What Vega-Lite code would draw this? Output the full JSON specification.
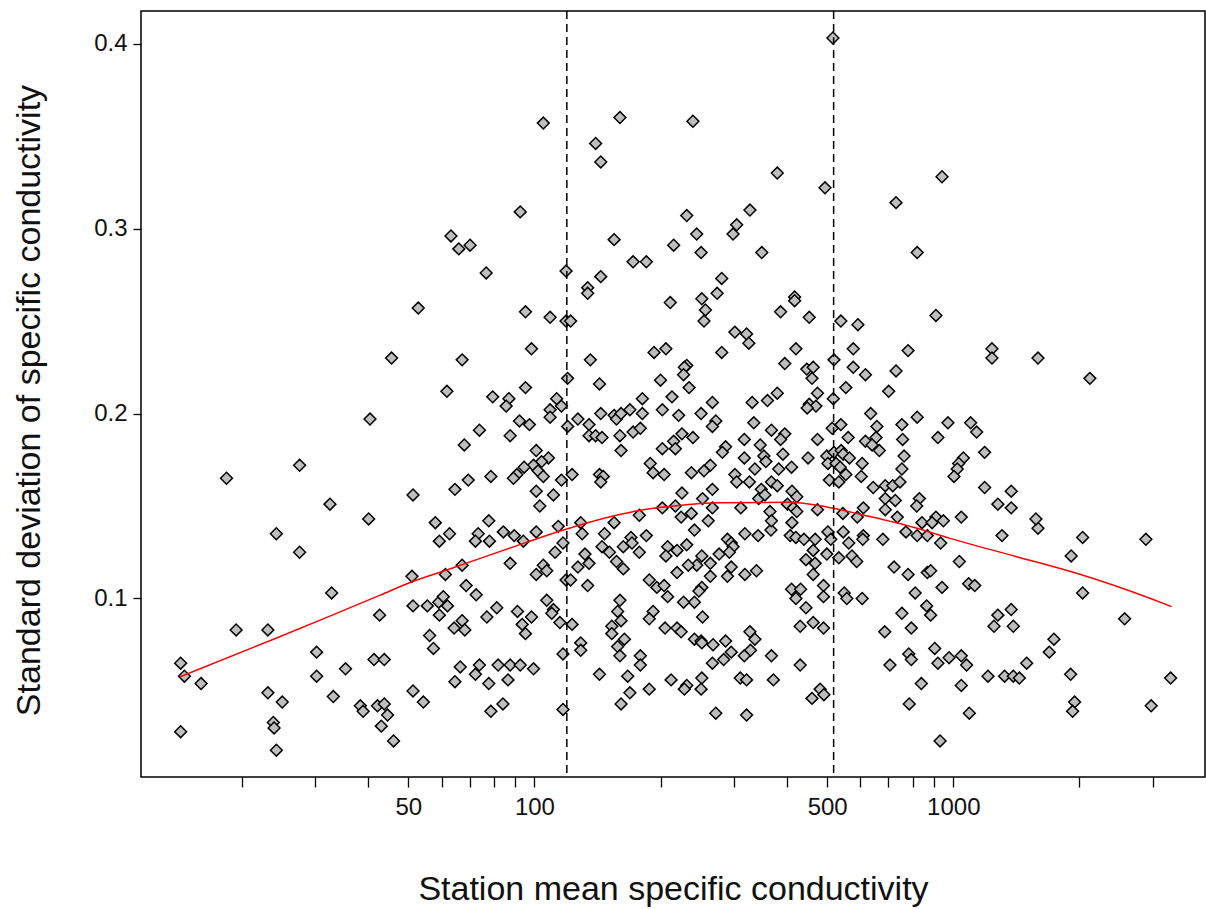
{
  "$schema": "https://vega.github.io/schema/vega-lite/v6.json",
  "width": 1064,
  "height": 766,
  "autosize": {"type": "none"},
  "padding": {"left": 141, "top": 11, "right": 1, "bottom": 132},
  "background": "white",
  "config": {
    "view": {"stroke": "black", "strokeWidth": 1.5},
    "font": "Liberation Sans",
    "axis": {"domain": false, "grid": false, "tickColor": "black", "tickWidth": 1.3, "labelColor": "#111111", "titleColor": "#111111", "labelFont": "Liberation Sans", "titleFont": "Liberation Sans", "titleFontWeight": "normal", "labelOverlap": false, "labelFlush": false}
  },
  "datasets": {
    "pts": [
      {"cond":105,"sd":0.357},{"cond":160,"sd":0.360},{"cond":140,"sd":0.346},{"cond":144,"sd":0.336},{"cond":92.5,"sd":0.309},{"cond":63.2,"sd":0.296},{"cond":66.0,"sd":0.289},{"cond":70.2,"sd":0.291},{"cond":155,"sd":0.294},{"cond":215,"sd":0.291},{"cond":172,"sd":0.282},{"cond":185,"sd":0.282},
      {"cond":516,"sd":0.403},{"cond":239,"sd":0.358},{"cond":380,"sd":0.330},{"cond":494,"sd":0.322},{"cond":940,"sd":0.328},{"cond":730,"sd":0.314},{"cond":327,"sd":0.310},{"cond":231,"sd":0.307},{"cond":304,"sd":0.302},{"cond":298,"sd":0.297},{"cond":244,"sd":0.297},{"cond":250,"sd":0.287},{"cond":349,"sd":0.287},{"cond":820,"sd":0.287},
      {"cond":45.6,"sd":0.230},{"cond":40.5,"sd":0.197},{"cond":27.5,"sd":0.172},{"cond":18.4,"sd":0.165},{"cond":51.3,"sd":0.156},{"cond":32.5,"sd":0.151},{"cond":40.2,"sd":0.143},
      {"cond":24.2,"sd":0.135},{"cond":27.5,"sd":0.125},{"cond":32.8,"sd":0.103},{"cond":42.7,"sd":0.091},{"cond":51.0,"sd":0.112},{"cond":19.4,"sd":0.083},{"cond":23.1,"sd":0.083},{"cond":14.3,"sd":0.065},{"cond":14.6,"sd":0.058},{"cond":16.0,"sd":0.054},{"cond":30.2,"sd":0.071},{"cond":30.2,"sd":0.058},{"cond":35.4,"sd":0.062},{"cond":41.4,"sd":0.067},{"cond":43.8,"sd":0.067},{"cond":51.3,"sd":0.096},{"cond":51.3,"sd":0.050},{"cond":23.1,"sd":0.049},{"cond":25.0,"sd":0.044},{"cond":33.1,"sd":0.047},{"cond":38.4,"sd":0.042},{"cond":39.0,"sd":0.039},{"cond":42.2,"sd":0.042},{"cond":43.8,"sd":0.043},{"cond":44.6,"sd":0.037},{"cond":43.1,"sd":0.031},{"cond":46.1,"sd":0.023},{"cond":14.3,"sd":0.028},{"cond":23.8,"sd":0.033},{"cond":23.9,"sd":0.030},{"cond":24.2,"sd":0.018},
      {"cond":62.7,"sd":0.135},{"cond":59.3,"sd":0.131},{"cond":73.4,"sd":0.135},{"cond":72.3,"sd":0.131},{"cond":78.1,"sd":0.131},{"cond":84.3,"sd":0.136},{"cond":89.5,"sd":0.134},{"cond":94.1,"sd":0.131},{"cond":101,"sd":0.136},{"cond":117,"sd":0.130},{"cond":112,"sd":0.125},{"cond":130,"sd":0.135},{"cond":147,"sd":0.135},{"cond":145,"sd":0.128},{"cond":151,"sd":0.125},{"cond":163,"sd":0.128},{"cond":170,"sd":0.133},{"cond":171,"sd":0.130},{"cond":185,"sd":0.134},{"cond":178,"sd":0.125},{"cond":208,"sd":0.128},{"cond":206,"sd":0.123},{"cond":219,"sd":0.126},
      {"cond":87.5,"sd":0.119},{"cond":67.2,"sd":0.118},{"cond":61.3,"sd":0.113},{"cond":101,"sd":0.113},{"cond":105,"sd":0.118},{"cond":107,"sd":0.115},{"cond":119,"sd":0.110},{"cond":122,"sd":0.110},{"cond":127,"sd":0.117},{"cond":132,"sd":0.124},{"cond":135,"sd":0.119},{"cond":134,"sd":0.107},{"cond":157,"sd":0.120},{"cond":163,"sd":0.116},{"cond":188,"sd":0.110},{"cond":196,"sd":0.106},{"cond":204,"sd":0.107},{"cond":208,"sd":0.101},{"cond":219,"sd":0.114},
      {"cond":68.7,"sd":0.107},{"cond":72.6,"sd":0.102},{"cond":55.5,"sd":0.096},{"cond":59.1,"sd":0.098},{"cond":60.6,"sd":0.101},{"cond":62.0,"sd":0.096},{"cond":59.3,"sd":0.091},{"cond":81.3,"sd":0.095},{"cond":77.0,"sd":0.090},{"cond":91.1,"sd":0.093},{"cond":98.4,"sd":0.090},{"cond":93.5,"sd":0.086},{"cond":95.2,"sd":0.081},{"cond":107,"sd":0.099},{"cond":111,"sd":0.094},{"cond":110,"sd":0.092},{"cond":115,"sd":0.087},{"cond":123,"sd":0.086},{"cond":67.2,"sd":0.088},{"cond":64.3,"sd":0.084},{"cond":68.2,"sd":0.083},{"cond":56.2,"sd":0.080},{"cond":57.4,"sd":0.073},
      {"cond":160,"sd":0.099},{"cond":158,"sd":0.093},{"cond":161,"sd":0.088},{"cond":153,"sd":0.085},{"cond":153,"sd":0.081},{"cond":164,"sd":0.078},{"cond":158,"sd":0.074},{"cond":160,"sd":0.069},{"cond":192,"sd":0.093},{"cond":188,"sd":0.089},{"cond":205,"sd":0.084},{"cond":219,"sd":0.084},{"cond":129,"sd":0.076},{"cond":129,"sd":0.072},{"cond":117,"sd":0.070},{"cond":179,"sd":0.069},{"cond":179,"sd":0.064},
      {"cond":66.5,"sd":0.063},{"cond":73.9,"sd":0.064},{"cond":72.3,"sd":0.059},{"cond":64.6,"sd":0.055},{"cond":77.8,"sd":0.054},{"cond":81.9,"sd":0.064},{"cond":87.5,"sd":0.064},{"cond":92.5,"sd":0.064},{"cond":99.5,"sd":0.062},{"cond":86.5,"sd":0.056},{"cond":143,"sd":0.059},{"cond":167,"sd":0.058},{"cond":212,"sd":0.056},{"cond":188,"sd":0.051},{"cond":169,"sd":0.049},{"cond":161,"sd":0.043},{"cond":54.3,"sd":0.044},{"cond":84.1,"sd":0.043},{"cond":78.7,"sd":0.039},{"cond":117,"sd":0.040},
      {"cond":241,"sd":0.137},{"cond":318,"sd":0.135},{"cond":342,"sd":0.134},{"cond":367,"sd":0.137},{"cond":408,"sd":0.134},{"cond":421,"sd":0.133},{"cond":440,"sd":0.132},{"cond":468,"sd":0.132},{"cond":502,"sd":0.136},{"cond":510,"sd":0.132},{"cond":546,"sd":0.136},{"cond":563,"sd":0.130},{"cond":610,"sd":0.134},{"cond":608,"sd":0.132},{"cond":679,"sd":0.132},{"cond":771,"sd":0.136},{"cond":820,"sd":0.134},{"cond":867,"sd":0.134},{"cond":933,"sd":0.130},
      {"cond":231,"sd":0.129},{"cond":289,"sd":0.132},{"cond":295,"sd":0.130},{"cond":298,"sd":0.128},{"cond":292,"sd":0.125},{"cond":276,"sd":0.124},{"cond":251,"sd":0.123},{"cond":263,"sd":0.119},{"cond":244,"sd":0.118},{"cond":233,"sd":0.118},{"cond":295,"sd":0.117},{"cond":289,"sd":0.112},{"cond":263,"sd":0.112},{"cond":318,"sd":0.113},{"cond":339,"sd":0.115},
      {"cond":463,"sd":0.126},{"cond":445,"sd":0.121},{"cond":468,"sd":0.119},{"cond":499,"sd":0.124},{"cond":533,"sd":0.122},{"cond":573,"sd":0.123},{"cond":588,"sd":0.120},{"cond":463,"sd":0.113},{"cond":722,"sd":0.117},{"cond":780,"sd":0.113},{"cond":867,"sd":0.114},{"cond":883,"sd":0.115},{"cond":940,"sd":0.106},{"cond":811,"sd":0.103},
      {"cond":251,"sd":0.106},{"cond":247,"sd":0.104},{"cond":241,"sd":0.098},{"cond":227,"sd":0.098},{"cond":252,"sd":0.090},{"cond":411,"sd":0.105},{"cond":432,"sd":0.105},{"cond":421,"sd":0.100},{"cond":445,"sd":0.095},{"cond":490,"sd":0.107},{"cond":490,"sd":0.101},{"cond":549,"sd":0.103},{"cond":557,"sd":0.100},{"cond":606,"sd":0.100},{"cond":754,"sd":0.092},{"cond":864,"sd":0.096},{"cond":883,"sd":0.091},
      {"cond":431,"sd":0.085},{"cond":463,"sd":0.087},{"cond":490,"sd":0.084},{"cond":686,"sd":0.082},{"cond":794,"sd":0.084},{"cond":224,"sd":0.082},{"cond":241,"sd":0.078},{"cond":250,"sd":0.077},{"cond":251,"sd":0.076},{"cond":267,"sd":0.075},{"cond":286,"sd":0.077},{"cond":327,"sd":0.082},{"cond":336,"sd":0.078},{"cond":328,"sd":0.072},{"cond":317,"sd":0.069},{"cond":295,"sd":0.071},{"cond":283,"sd":0.067},{"cond":266,"sd":0.065},{"cond":368,"sd":0.069},{"cond":431,"sd":0.064},
      {"cond":903,"sd":0.073},{"cond":783,"sd":0.070},{"cond":794,"sd":0.067},{"cond":706,"sd":0.064},{"cond":919,"sd":0.065},{"cond":977,"sd":0.068},{"cond":251,"sd":0.057},{"cond":231,"sd":0.053},{"cond":228,"sd":0.051},{"cond":250,"sd":0.051},{"cond":310,"sd":0.057},{"cond":321,"sd":0.056},{"cond":372,"sd":0.056},{"cond":481,"sd":0.051},{"cond":491,"sd":0.048},{"cond":460,"sd":0.046},{"cond":839,"sd":0.054},{"cond":785,"sd":0.043},{"cond":271,"sd":0.038},{"cond":321,"sd":0.037},{"cond":930,"sd":0.023},
      {"cond":1593,"sd":0.138},{"cond":1307,"sd":0.134},{"cond":2036,"sd":0.133},{"cond":2883,"sd":0.132},{"cond":1912,"sd":0.123},{"cond":1034,"sd":0.120},{"cond":1088,"sd":0.108},{"cond":1125,"sd":0.107},{"cond":2036,"sd":0.103},{"cond":2565,"sd":0.089},{"cond":1375,"sd":0.094},{"cond":1278,"sd":0.091},{"cond":1251,"sd":0.085},{"cond":1391,"sd":0.085},{"cond":1739,"sd":0.078},{"cond":1695,"sd":0.071},{"cond":1045,"sd":0.069},{"cond":1076,"sd":0.064},{"cond":1497,"sd":0.065},{"cond":1210,"sd":0.058},{"cond":1326,"sd":0.058},{"cond":1391,"sd":0.058},{"cond":1438,"sd":0.057},{"cond":1906,"sd":0.059},{"cond":3303,"sd":0.057},{"cond":1045,"sd":0.053},{"cond":1948,"sd":0.044},{"cond":1927,"sd":0.039},{"cond":2968,"sd":0.042},{"cond":1092,"sd":0.038},
      {"cond":1237,"sd":0.235},{"cond":1237,"sd":0.230},{"cond":1593,"sd":0.230},{"cond":2119,"sd":0.219},{"cond":971,"sd":0.195},{"cond":1100,"sd":0.195},{"cond":1137,"sd":0.190},{"cond":1188,"sd":0.179},{"cond":1057,"sd":0.176},{"cond":1030,"sd":0.173},{"cond":1022,"sd":0.170},{"cond":1004,"sd":0.166},{"cond":1188,"sd":0.160},{"cond":1375,"sd":0.158},{"cond":1278,"sd":0.151},{"cond":1375,"sd":0.149},{"cond":1045,"sd":0.144},{"cond":1575,"sd":0.143},
      {"cond":76.7,"sd":0.276},{"cond":119,"sd":0.277},{"cond":144,"sd":0.274},{"cond":134,"sd":0.268},{"cond":134,"sd":0.265},{"cond":211,"sd":0.260},{"cond":52.8,"sd":0.257},{"cond":95.2,"sd":0.255},{"cond":109,"sd":0.252},{"cond":119,"sd":0.250},{"cond":122,"sd":0.250},{"cond":98.4,"sd":0.235},{"cond":67.2,"sd":0.229},{"cond":136,"sd":0.229},{"cond":193,"sd":0.233},{"cond":206,"sd":0.235},
      {"cond":120,"sd":0.219},{"cond":143,"sd":0.216},{"cond":200,"sd":0.218},{"cond":95.2,"sd":0.214},{"cond":61.8,"sd":0.212},{"cond":79.5,"sd":0.209},{"cond":86.9,"sd":0.208},{"cond":85.6,"sd":0.204},{"cond":113,"sd":0.208},{"cond":116,"sd":0.204},{"cond":109,"sd":0.202},{"cond":109,"sd":0.198},{"cond":181,"sd":0.208},{"cond":213,"sd":0.209},{"cond":202,"sd":0.202},{"cond":181,"sd":0.200},{"cond":221,"sd":0.199},{"cond":144,"sd":0.200},{"cond":155,"sd":0.199},{"cond":157,"sd":0.197},{"cond":161,"sd":0.200},{"cond":169,"sd":0.202},
      {"cond":92.1,"sd":0.196},{"cond":97.3,"sd":0.194},{"cond":127,"sd":0.197},{"cond":135,"sd":0.194},{"cond":120,"sd":0.193},{"cond":73.9,"sd":0.191},{"cond":87.5,"sd":0.188},{"cond":135,"sd":0.188},{"cond":140,"sd":0.188},{"cond":145,"sd":0.187},{"cond":160,"sd":0.188},{"cond":172,"sd":0.190},{"cond":179,"sd":0.192},{"cond":225,"sd":0.189},{"cond":215,"sd":0.185},{"cond":217,"sd":0.181},{"cond":202,"sd":0.181},{"cond":68.0,"sd":0.183},{"cond":101,"sd":0.180},{"cond":161,"sd":0.180},
      {"cond":108,"sd":0.176},{"cond":104,"sd":0.174},{"cond":99.5,"sd":0.172},{"cond":102,"sd":0.169},{"cond":94.5,"sd":0.171},{"cond":90.8,"sd":0.167},{"cond":89.1,"sd":0.165},{"cond":105,"sd":0.166},{"cond":189,"sd":0.173},{"cond":192,"sd":0.168},{"cond":204,"sd":0.167},{"cond":78.7,"sd":0.166},{"cond":69.5,"sd":0.164},{"cond":64.6,"sd":0.159},{"cond":116,"sd":0.164},{"cond":123,"sd":0.167},{"cond":143,"sd":0.167},{"cond":146,"sd":0.166},{"cond":144,"sd":0.163},
      {"cond":101,"sd":0.158},{"cond":111,"sd":0.156},{"cond":103,"sd":0.150},{"cond":58.0,"sd":0.141},{"cond":77.8,"sd":0.142},{"cond":178,"sd":0.145},{"cond":202,"sd":0.149},{"cond":217,"sd":0.150},{"cond":224,"sd":0.144},{"cond":129,"sd":0.141},{"cond":114,"sd":0.139},{"cond":155,"sd":0.141},
      {"cond":280,"sd":0.273},{"cond":273,"sd":0.265},{"cond":251,"sd":0.262},{"cond":256,"sd":0.256},{"cond":254,"sd":0.250},{"cond":418,"sd":0.263},{"cond":418,"sd":0.261},{"cond":387,"sd":0.255},{"cond":453,"sd":0.252},{"cond":539,"sd":0.250},{"cond":592,"sd":0.248},{"cond":909,"sd":0.253},{"cond":301,"sd":0.244},{"cond":321,"sd":0.243},{"cond":325,"sd":0.238},{"cond":280,"sd":0.233},{"cond":421,"sd":0.235},{"cond":577,"sd":0.235},{"cond":780,"sd":0.234},
      {"cond":396,"sd":0.227},{"cond":519,"sd":0.229},{"cond":447,"sd":0.224},{"cond":463,"sd":0.225},{"cond":460,"sd":0.219},{"cond":577,"sd":0.225},{"cond":617,"sd":0.221},{"cond":730,"sd":0.223},{"cond":231,"sd":0.226},{"cond":228,"sd":0.225},{"cond":227,"sd":0.221},{"cond":234,"sd":0.214},{"cond":554,"sd":0.214},{"cond":701,"sd":0.212},{"cond":380,"sd":0.211},{"cond":360,"sd":0.207},{"cond":331,"sd":0.206},{"cond":266,"sd":0.206},{"cond":474,"sd":0.211},{"cond":453,"sd":0.205},{"cond":470,"sd":0.204},{"cond":448,"sd":0.203},{"cond":517,"sd":0.208},
      {"cond":250,"sd":0.200},{"cond":271,"sd":0.196},{"cond":266,"sd":0.193},{"cond":334,"sd":0.195},{"cond":635,"sd":0.200},{"cond":820,"sd":0.198},{"cond":514,"sd":0.192},{"cond":539,"sd":0.194},{"cond":657,"sd":0.193},{"cond":754,"sd":0.194},{"cond":368,"sd":0.191},{"cond":396,"sd":0.189},{"cond":387,"sd":0.186},{"cond":239,"sd":0.187},{"cond":317,"sd":0.186},{"cond":474,"sd":0.186},{"cond":561,"sd":0.187},{"cond":654,"sd":0.187},{"cond":617,"sd":0.185},{"cond":640,"sd":0.183},{"cond":666,"sd":0.180},{"cond":757,"sd":0.186},{"cond":919,"sd":0.187},
      {"cond":346,"sd":0.183},{"cond":286,"sd":0.182},{"cond":281,"sd":0.179},{"cond":353,"sd":0.177},{"cond":357,"sd":0.174},{"cond":317,"sd":0.176},{"cond":392,"sd":0.178},{"cond":450,"sd":0.176},{"cond":499,"sd":0.177},{"cond":519,"sd":0.179},{"cond":540,"sd":0.180},{"cond":546,"sd":0.178},{"cond":565,"sd":0.176},{"cond":502,"sd":0.173},{"cond":525,"sd":0.173},{"cond":537,"sd":0.171},{"cond":554,"sd":0.167},{"cond":606,"sd":0.173},{"cond":603,"sd":0.166},{"cond":763,"sd":0.177},{"cond":754,"sd":0.170},
      {"cond":336,"sd":0.170},{"cond":383,"sd":0.170},{"cond":411,"sd":0.171},{"cond":263,"sd":0.172},{"cond":254,"sd":0.169},{"cond":237,"sd":0.168},{"cond":301,"sd":0.167},{"cond":304,"sd":0.163},{"cond":326,"sd":0.163},{"cond":368,"sd":0.163},{"cond":380,"sd":0.161},{"cond":348,"sd":0.159},{"cond":506,"sd":0.164},{"cond":533,"sd":0.163},{"cond":266,"sd":0.159},{"cond":225,"sd":0.157},{"cond":252,"sd":0.154},{"cond":343,"sd":0.154},{"cond":355,"sd":0.156},{"cond":412,"sd":0.158},{"cond":423,"sd":0.155},
      {"cond":644,"sd":0.160},{"cond":688,"sd":0.161},{"cond":717,"sd":0.161},{"cond":746,"sd":0.163},{"cond":688,"sd":0.154},{"cond":727,"sd":0.153},{"cond":830,"sd":0.154},{"cond":818,"sd":0.150},{"cond":688,"sd":0.148},{"cond":735,"sd":0.144},{"cond":610,"sd":0.149},{"cond":402,"sd":0.151},{"cond":415,"sd":0.149},{"cond":311,"sd":0.149},{"cond":266,"sd":0.149},{"cond":237,"sd":0.146},{"cond":365,"sd":0.147},{"cond":423,"sd":0.147},{"cond":474,"sd":0.148},{"cond":545,"sd":0.146},{"cond":590,"sd":0.144},{"cond":260,"sd":0.142},{"cond":368,"sd":0.142},{"cond":412,"sd":0.141},{"cond":842,"sd":0.141},{"cond":909,"sd":0.144},{"cond":947,"sd":0.142},{"cond":890,"sd":0.141}
    ],
    "fit": [
      {"cond":14.27,"sd":0.0577},{"cond":23.83,"sd":0.0780},{"cond":31.95,"sd":0.0898},{"cond":42.83,"sd":0.1018},{"cond":50.32,"sd":0.1085},{"cond":61.78,"sd":0.1154},{"cond":94.14,"sd":0.1298},{"cond":117.3,"sd":0.1370},{"cond":151.6,"sd":0.1442},{"cond":182.0,"sd":0.1480},{"cond":218.7,"sd":0.1502},{"cond":277.5,"sd":0.1517},{"cond":407.6,"sd":0.1520},{"cond":498.7,"sd":0.1495},{"cond":609.8,"sd":0.1451},{"cond":802.6,"sd":0.1385},{"cond":982,"sd":0.1325},{"cond":1417,"sd":0.1226},{"cond":1970,"sd":0.1136},{"cond":2947,"sd":0.1001},{"cond":3321,"sd":0.0956}
    ],
    "cuts": [{"cond":119.5},{"cond":518}]
  },
  "layer": [
    {
      "data": {"name": "pts"},
      "mark": {"type": "point", "shape": "diamond", "filled": true, "fill": "#bebebe", "stroke": "black", "strokeWidth": 1.5, "size": 140, "opacity": 1},
      "encoding": {
        "x": {"field": "cond", "type": "quantitative",
          "scale": {"type": "log", "domain": [11.5, 3990], "nice": false, "zero": false},
          "axis": {"values": [20,30,40,50,60,70,80,90,100,200,300,400,500,600,700,800,900,1000,2000,3000],
            "labelExpr": "(datum.value == 50 || datum.value == 100 || datum.value == 500 || datum.value == 1000) ? format(datum.value, 'd') : ''",
            "tickSize": 10, "labelFontSize": 24, "labelPadding": 8,
            "title": "Station mean specific conductivity", "titleFontSize": 34, "titleY": 122, "titleBaseline": "alphabetic"}},
        "y": {"field": "sd", "type": "quantitative",
          "scale": {"domain": [0.0035, 0.4176], "nice": false, "zero": false},
          "axis": {"values": [0.1, 0.2, 0.3, 0.4], "format": ".1f", "tickSize": 8, "labelFontSize": 24, "labelPadding": 6,
            "title": "Standard deviation of specific conductivity", "titleFontSize": 34, "titleX": -102, "titleY": 389, "titleAngle": -90, "titleBaseline": "alphabetic", "titleAlign": "center"}}
      }
    },
    {
      "data": {"name": "fit"},
      "mark": {"type": "line", "color": "red", "strokeWidth": 1.5, "interpolate": "monotone"},
      "encoding": {
        "x": {"field": "cond", "type": "quantitative"},
        "y": {"field": "sd", "type": "quantitative"}
      }
    },
    {
      "data": {"name": "cuts"},
      "mark": {"type": "rule", "color": "black", "strokeWidth": 1.5, "strokeDash": [8, 5]},
      "encoding": {
        "x": {"field": "cond", "type": "quantitative"}
      }
    }
  ]
}
